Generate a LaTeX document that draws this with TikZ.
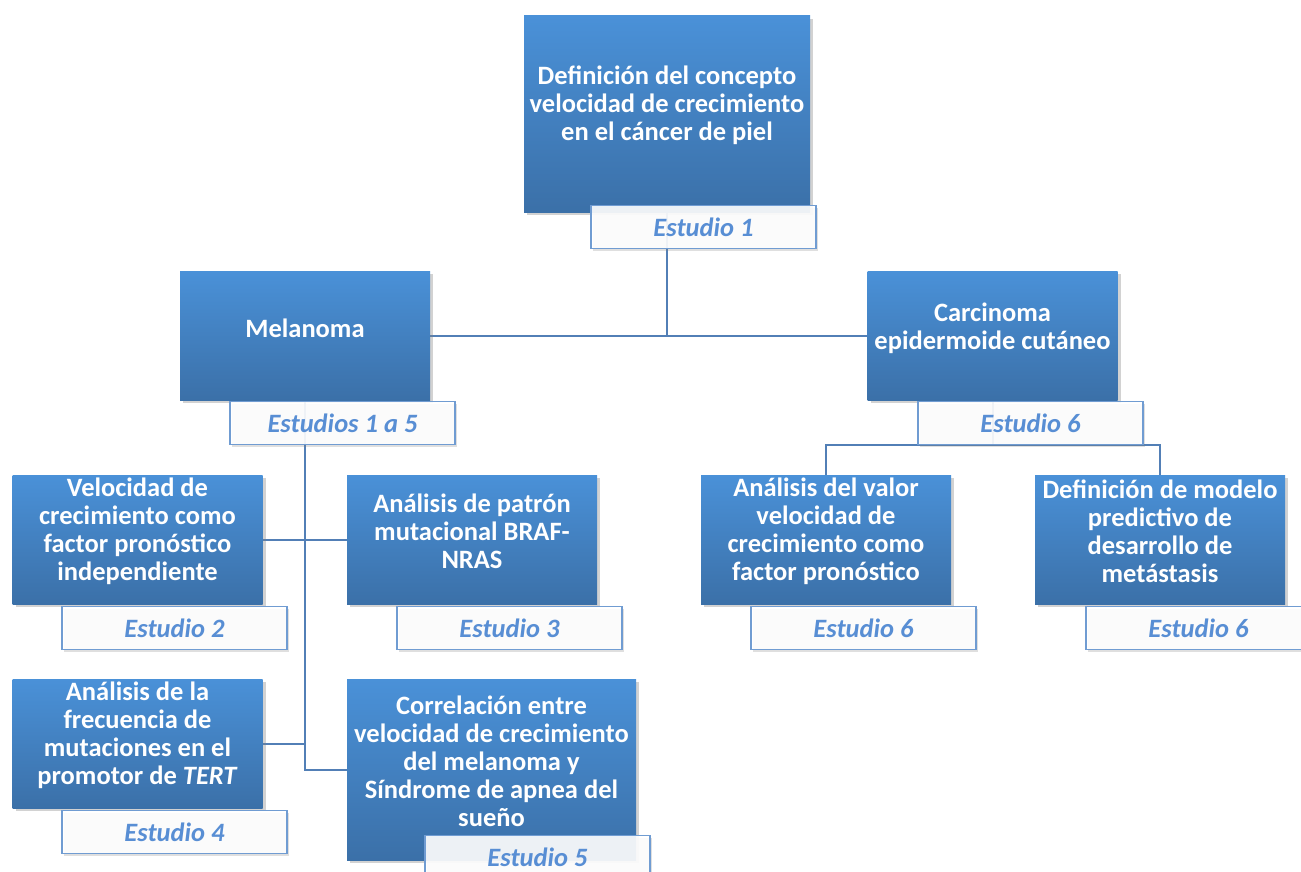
\documentclass[tikz,border=0pt]{standalone}
\usepackage{fontspec}
\setmainfont{Carlito}
\usetikzlibrary{shadows,backgrounds,calc}
\definecolor{boxtop}{RGB}{74,145,216}
\definecolor{boxbot}{RGB}{59,112,168}
\definecolor{labtext}{RGB}{88,142,212}
\definecolor{labborder}{RGB}{112,156,210}
\definecolor{conn}{RGB}{82,127,182}
\tikzset{
  bluebox/.style={rectangle, draw=none, top color=boxtop, bottom color=boxbot,
    minimum width=250pt, minimum height=129pt, inner sep=0pt,
    drop shadow={opacity=0.35, shadow xshift=3pt, shadow yshift=-3pt}},
  boxtext/.style={text=white, align=center, font=\fontsize{26.5}{28}\selectfont\bfseries, inner sep=0pt},
  studylabel/.style={rectangle, draw=labborder, line width=1.3pt, fill=white, fill opacity=0.9,
    text opacity=1, text=labtext, font=\fontsize{26.5}{28}\selectfont\bfseries\itshape,
    minimum width=225pt, minimum height=43pt, inner sep=0pt,
    drop shadow={opacity=0.25, shadow xshift=2pt, shadow yshift=-2pt}},
  connector/.style={draw=conn, line width=2pt},
}
\begin{document}
\begin{tikzpicture}[x=1pt,y=-1pt]
\useasboundingbox (0,0) rectangle (1301,872);

% top
\node[bluebox, minimum width=286pt, minimum height=196pt] (top) at (667,114) {};
\node[boxtext] (toptext) at ([yshift=9pt]top.center) {Definición del concepto\\velocidad de crecimiento\\en el cáncer de piel};
\node[studylabel] (l1) at (703.5,227) {Estudio 1};

% level 2
\node[bluebox] (mel) at (305,335.5) {};
\node[boxtext] (meltext) at ([yshift=7pt]mel.center) {Melanoma};
\node[studylabel] (lmel) at (342.5,423) {Estudios 1 a 5};

\node[bluebox] (car) at (992.5,335.5) {};
\node[boxtext] (cartext) at ([yshift=7pt]car.center) {Carcinoma\\epidermoide cutáneo};
\node[studylabel] (lcar) at (1030.5,423) {Estudio 6};

% melanoma children
\node[bluebox] (vel) at (137.5,539.5) {};
\node[boxtext] (veltext) at ([yshift=8pt]vel.center) {Velocidad de\\crecimiento como\\factor pronóstico\\independiente};
\node[studylabel] (l2) at (174.5,628) {Estudio 2};

\node[bluebox] (braf) at (472,539.5) {};
\node[boxtext] (braftext) at ([yshift=8pt]braf.center) {Análisis de patrón\\mutacional BRAF-\\NRAS};
\node[studylabel] (l3) at (509.5,628) {Estudio 3};

\node[bluebox] (tert) at (137.5,743.5) {};
\node[boxtext] (terttext) at ([yshift=8pt]tert.center) {Análisis de la\\frecuencia de\\mutaciones en el\\promotor de \textit{TERT}};
\node[studylabel] (l4) at (174.5,832) {Estudio 4};

\node[bluebox, minimum width=289pt, minimum height=181pt] (corr) at (491.5,769.5) {};
\node[boxtext] (corrtext) at ([yshift=8pt]corr.center) {Correlación entre\\velocidad de crecimiento\\del melanoma y\\Síndrome de apnea del\\sueño};
\node[studylabel] (l5) at (537.5,857) {Estudio 5};

% carcinoma children
\node[bluebox] (val) at (826,539.5) {};
\node[boxtext] (valtext) at ([yshift=8pt]val.center) {Análisis del valor\\velocidad de\\crecimiento como\\factor pronóstico};
\node[studylabel] (l6a) at (863.5,628) {Estudio 6};

\node[bluebox] (pred) at (1160,539.5) {};
\node[boxtext] (predtext) at ([yshift=8pt]pred.center) {Definición de modelo\\predictivo de\\desarrollo de\\metástasis};
\node[studylabel] (l6b) at (1198.5,628) {Estudio 6};

% background and connectors
\begin{scope}[on background layer]
\fill[white] (0,0) rectangle (1301,872);
\draw[connector] (top.south) -- (top.south |- mel.east);
\draw[connector] (mel.east) -- (car.west);
\draw[connector] (mel.south) -- (mel.south |- corr.west) -- (corr.west);
\draw[connector] (vel.east) -- (braf.west);
\draw[connector] (tert.east) -- (tert.east -| mel.south);
\draw[connector] (car.south) -- (car.south |- lcar.south);
\draw[connector] (val.north) -- (val.north |- lcar.south) -- (pred.north |- lcar.south) -- (pred.north);
\end{scope}
\end{tikzpicture}
\end{document}
